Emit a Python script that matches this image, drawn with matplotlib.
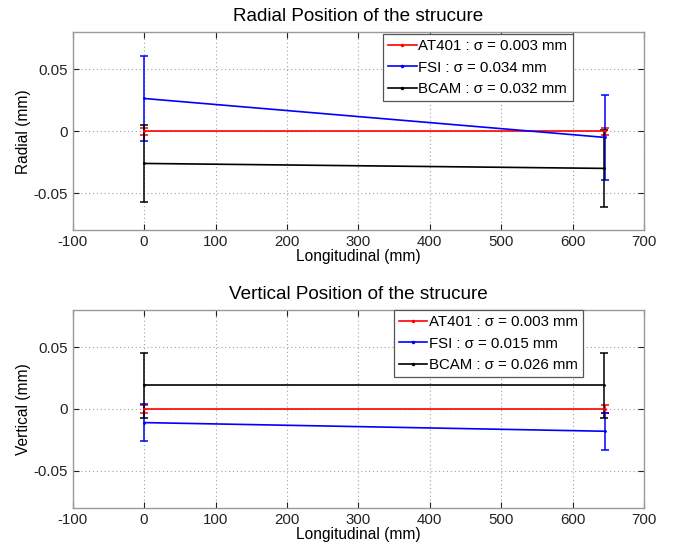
import matplotlib
matplotlib.use("Agg")
import matplotlib.pyplot as plt
from matplotlib.lines import Line2D

plt.rcParams['font.family'] = ['Liberation Sans', 'DejaVu Sans']
plt.rcParams['axes.unicode_minus'] = False

# Data
x_at401 = [0, 645]
x_fsi = [0, 646]
x_bcam = [0, 644]

radial_at401 = [0.0, 0.0]
radial_fsi = [0.0265, -0.005]
radial_bcam = [-0.026, -0.030]
radial_err_at401 = 0.003
radial_err_fsi = 0.034
radial_err_bcam = 0.031

vertical_at401 = [0.0, 0.0]
vertical_fsi = [-0.011, -0.018]
vertical_bcam = [0.019, 0.019]
vertical_err_at401 = 0.003
vertical_err_fsi = 0.015
vertical_err_bcam = 0.026

radial_labels = ['AT401 : \u03c3 = 0.003 mm', 'FSI : \u03c3 = 0.034 mm', 'BCAM : \u03c3 = 0.032 mm']
vertical_labels = ['AT401 : \u03c3 = 0.003 mm', 'FSI : \u03c3 = 0.015 mm', 'BCAM : \u03c3 = 0.026 mm']

xticks = [-100, 0, 100, 200, 300, 400, 500, 600, 700]
yticks = [-0.05, 0, 0.05]
ytick_labels = ['-0.05', '0', '0.05']

colors = ['#ff0000', '#0000ff', '#000000']

fig = plt.figure(figsize=(6.81, 5.44), dpi=100)
ax1 = fig.add_axes([0.1067, 0.5767, 0.839, 0.364])
ax2 = fig.add_axes([0.1067, 0.0662, 0.839, 0.364])

def draw(ax, ys, errs, labels, title, ylabel, legend_anchor):
    xs = [x_at401, x_fsi, x_bcam]
    handles = []
    for x, y, e, c, lab in zip(xs, ys, errs, colors, labels):
        ax.errorbar(x, y, yerr=e, color=c, lw=1.2, elinewidth=1.1, capsize=3.2,
                    capthick=1.1, marker='.', markersize=2)
        handles.append(Line2D([], [], color=c, lw=1.2, marker='.', markersize=3, label=lab))
    ax.set_xlim(-100, 700)
    ax.set_ylim(-0.08, 0.08)
    ax.set_xticks(xticks)
    ax.set_yticks(yticks)
    ax.set_yticklabels(ytick_labels)
    ax.grid(True, linestyle=(0, (1, 2.5)), color='#a0a0a0', lw=0.8)
    ax.tick_params(direction='in', top=True, right=True, labelsize=10.8,
                   colors='#222222', length=4, width=0.8)
    for t in ax.get_xticklines() + ax.get_yticklines():
        t.set_color('#444444')
    for sp in ax.spines.values():
        sp.set_color('#9a9a9a')
        sp.set_linewidth(1.0)
    ax.set_title(title, fontsize=13.6, pad=8)
    ax.set_xlabel('Longitudinal (mm)', fontsize=11.2, labelpad=0)
    ax.set_ylabel(ylabel, fontsize=11.2, labelpad=2)
    leg = ax.legend(handles=handles, loc='upper right', bbox_to_anchor=legend_anchor,
                    borderaxespad=0, fontsize=10.8, fancybox=False, framealpha=1,
                    handlelength=1.9, handletextpad=0.12, borderpad=0.35,
                    labelspacing=0.5)
    leg.get_frame().set_edgecolor('#555555')
    leg.get_frame().set_linewidth(0.9)

draw(ax1, [radial_at401, radial_fsi, radial_bcam],
     [radial_err_at401, radial_err_fsi, radial_err_bcam],
     radial_labels, 'Radial Position of the strucure', 'Radial (mm)', (0.875, 0.992))
draw(ax2, [vertical_at401, vertical_fsi, vertical_bcam],
     [vertical_err_at401, vertical_err_fsi, vertical_err_bcam],
     vertical_labels, 'Vertical Position of the strucure', 'Vertical (mm)', (0.894, 1.0))

fig.savefig('out.png', dpi=100)
